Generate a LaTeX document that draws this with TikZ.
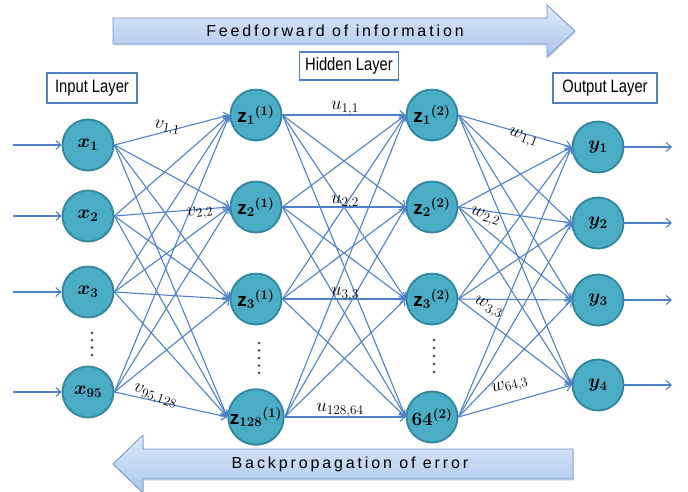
\RequirePackage{fix-cm}
\documentclass[tikz,border=0pt]{standalone}
\usepackage{amsmath}
\usepackage{bm}
\usepackage{fontspec}
\setmainfont{Liberation Sans}
\newfontfamily\narrowfont[FakeStretch=0.82]{Liberation Sans}
\newfontfamily\spacedfont[LetterSpace=18]{Liberation Sans}
\usepackage{xcolor}
\usepackage{tikz}
\usetikzlibrary{arrows.meta, shadows}

\definecolor{neuronfill}{RGB}{75,172,198}
\definecolor{neuronline}{RGB}{49,133,156}
\definecolor{linkblue}{RGB}{79,129,200}
\definecolor{boxblue}{RGB}{79,129,189}
\definecolor{arrowtop}{RGB}{222,233,248}
\definecolor{arrowbot}{RGB}{170,198,236}
\definecolor{arrowline}{RGB}{112,150,206}

\begin{document}
\begin{tikzpicture}[
    x=1pt, y=-1pt,
    neuron/.style={circle, draw=neuronline, line width=1.8pt, fill=neuronfill, minimum size=51pt, inner sep=0pt, font=\fontsize{19}{22}\selectfont},
    layerbox/.style={rectangle, draw=boxblue, line width=1.8pt, fill=white, minimum height=30pt, inner sep=0pt, font=\narrowfont\fontsize{18}{21}\selectfont},
    fatarrow/.style={draw=arrowline, line width=0.8pt, top color=arrowtop, bottom color=arrowbot, drop shadow={opacity=0.25, shadow xshift=1pt, shadow yshift=-1.5pt}},
    link/.style={-{Straight Barb[length=5pt, width=9pt]}, draw=linkblue, line width=1.1pt},
    wlabel/.style={inner sep=1pt, font=\fontsize{19}{22}\selectfont},
    dot/.style={fill=black!75},
]
    \useasboundingbox (0,0) rectangle (688,491);

    % ===== BIG ARROWS =====
    \draw[fatarrow] (113,18) -- (547,18) -- (547,5) -- (575,31) -- (547,57) -- (547,44) -- (113,44) -- cycle;
    \node[font=\spacedfont\fontsize{16}{18}\selectfont] (ffText) at (335,31) {Feedforward of information};
    \draw[fatarrow] (573,449) -- (143,449) -- (143,435) -- (113,464) -- (143,493) -- (143,479) -- (573,479) -- cycle;
    \node[font=\spacedfont\fontsize{16}{18}\selectfont] (bpText) at (350,464) {Backpropagation of error};

    % ===== LAYER TITLES =====
    \node[layerbox, minimum width=90pt] (inTitle) at (92,88) {Input Layer};
    \node[layerbox, minimum width=99pt, minimum height=28pt] (hidTitle) at (349,66) {Hidden Layer};
    \node[layerbox, minimum width=104pt] (outTitle) at (605,88) {Output Layer};

    % ===== INPUT LAYER =====
    \node[neuron] (x1) at (88,145) {$\bm{x}_{\bm{1}}$};
    \node[neuron] (x2) at (88,216) {$\bm{x}_{\bm{2}}$};
    \node[neuron] (x3) at (88,292) {$\bm{x}_{\bm{3}}$};
    \node[neuron] (x95) at (88,392) {$\bm{x}_{\bm{95}}$};

    % ===== HIDDEN LAYER 1 =====
    \node[neuron] (za1) at (256,115) {\textbf{z}$_{\bm{1}}{}^{\bm{(1)}}$};
    \node[neuron] (za2) at (256,207) {\textbf{z}$_{\bm{2}}{}^{\bm{(1)}}$};
    \node[neuron] (za3) at (256,299) {\textbf{z}$_{\bm{3}}{}^{\bm{(1)}}$};
    \node[neuron] (za128) at (256,417) {\textbf{z}$_{\bm{128}}{}^{\bm{(1)}}$};

    % ===== HIDDEN LAYER 2 =====
    \node[neuron] (zb1) at (432,115) {\textbf{z}$_{\bm{1}}{}^{\bm{(2)}}$};
    \node[neuron] (zb2) at (432,207) {\textbf{z}$_{\bm{2}}{}^{\bm{(2)}}$};
    \node[neuron] (zb3) at (432,299) {\textbf{z}$_{\bm{3}}{}^{\bm{(2)}}$};
    \node[neuron] (zb64) at (432,417) {$\bm{64}^{\bm{(2)}}$};

    % ===== OUTPUT LAYER =====
    \node[neuron] (y1) at (598,147) {$\bm{y}_{\bm{1}}$};
    \node[neuron] (y2) at (598,223) {$\bm{y}_{\bm{2}}$};
    \node[neuron] (y3) at (598,300) {$\bm{y}_{\bm{3}}$};
    \node[neuron] (y4) at (598,385) {$\bm{y}_{\bm{4}}$};

    % Dots for the left-out neurons
    \foreach \k in {0,...,3} \fill[dot] (92,333+7.3*\k) circle (1.4);
    \foreach \k in {0,...,4} \fill[dot] (259,343+7.5*\k) circle (1.4);
    \foreach \k in {0,...,4} \fill[dot] (434,340+8*\k) circle (1.4);

    % ===== CONNECTIONS =====
    \coordinate (in1) at (13,145);
    \coordinate (in2) at (13,216);
    \coordinate (in3) at (13,292);
    \coordinate (in4) at (13,392);
    \coordinate (out1) at (672,147);
    \coordinate (out2) at (672,223);
    \coordinate (out3) at (672,300);
    \coordinate (out4) at (672,385);
    \draw[link] (in1) -- (x1);
    \draw[link] (in2) -- (x2);
    \draw[link] (in3) -- (x3);
    \draw[link] (in4) -- (x95);
    \draw[link] (y1) -- (out1);
    \draw[link] (y2) -- (out2);
    \draw[link] (y3) -- (out3);
    \draw[link] (y4) -- (out4);

    \foreach \s in {x1,x2,x3,x95}
        \foreach \t in {za1,za2,za3,za128}
            \draw[link] (\s.east) -- (\t.west);
    \foreach \s in {za1,za2,za3,za128}
        \foreach \t in {zb1,zb2,zb3,zb64}
            \draw[link] (\s.east) -- (\t.west);
    \foreach \s in {zb1,zb2,zb3,zb64}
        \foreach \t in {y1,y2,y3,y4}
            \draw[link] (\s.east) -- (\t.west);

    % Weight labels
    \node[wlabel, rotate=-10] (v11) at (167,128) {$v_{1,1}$};
    \node[wlabel, rotate=8] (v22) at (200,213) {$v_{2,2}$};
    \node[wlabel, rotate=-20] (v95) at (155,397) {$v_{95,128}$};
    \node[wlabel] (u11) at (345,108) {$u_{1,1}$};
    \node[wlabel] (u22) at (345,202) {$u_{2,2}$};
    \node[wlabel] (u33) at (345,294) {$u_{3,3}$};
    \node[wlabel] (u12864) at (340,410) {$u_{128,64}$};
    \node[wlabel, rotate=-20] (w11) at (523,138) {$w_{1,1}$};
    \node[wlabel, rotate=-20] (w22) at (485,217) {$w_{2,2}$};
    \node[wlabel, rotate=-25] (w33) at (488,308) {$w_{3,3}$};
    \node[wlabel, rotate=15] (w643) at (510,386) {$w_{64,3}$};

\end{tikzpicture}
\end{document}
